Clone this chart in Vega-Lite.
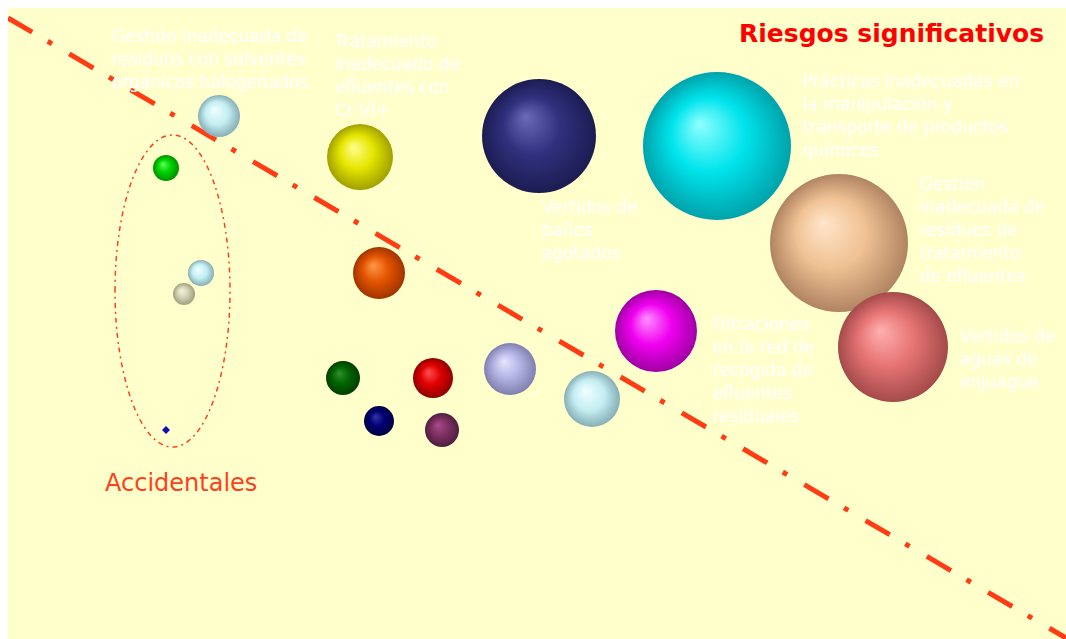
{
  "$schema": "https://vega.github.io/schema/vega-lite/v6.json",
  "autosize": {"type": "none"},
  "width": 1058,
  "height": 631,
  "padding": {"left": 8, "top": 8, "right": 0, "bottom": 0},
  "background": "white",
  "config": {"view": {"fill": "#FFFFCC", "stroke": null}},
  "datasets": {
    "riesgos": [
      {"id": "r1", "x": 219, "y": 116, "r": 21},
      {"id": "r2", "x": 360, "y": 157, "r": 33},
      {"id": "r3", "x": 539, "y": 136, "r": 57},
      {"id": "r4", "x": 717, "y": 146, "r": 74},
      {"id": "r5", "x": 839, "y": 243, "r": 69},
      {"id": "r6", "x": 656, "y": 331, "r": 41},
      {"id": "r7", "x": 893, "y": 347, "r": 55},
      {"id": "r8", "x": 379, "y": 273, "r": 26},
      {"id": "r9", "x": 343, "y": 378, "r": 17},
      {"id": "r10", "x": 433, "y": 378, "r": 20},
      {"id": "r11", "x": 510, "y": 369, "r": 26},
      {"id": "r12", "x": 592, "y": 399, "r": 28},
      {"id": "r13", "x": 379, "y": 421, "r": 15},
      {"id": "r14", "x": 442, "y": 430, "r": 17},
      {"id": "r15", "x": 166, "y": 168, "r": 13},
      {"id": "r16", "x": 201, "y": 273, "r": 13},
      {"id": "r17", "x": 184, "y": 294, "r": 11},
      {"id": "r18", "x": 166, "y": 430, "r": 4}
    ],
    "diagonal": [
      {"x": 8, "y": 18},
      {"x": 1066, "y": 638}
    ],
    "grupo": [
      {"x": 172.5, "y": 291, "r": 156}
    ],
    "etiquetas": [
      {"x": 112, "y": 42, "texto": "Gestión inadecuada de\nresiduos con solventes\norgánicos halogenados"},
      {"x": 335, "y": 47, "texto": "Tratamiento\ninadecuado de\nefluentes con\nCr VI+"},
      {"x": 803, "y": 87, "texto": "Prácticas inadecuadas en\nla manipulación y\ntransporte de productos\nquímicos"},
      {"x": 920, "y": 190, "texto": "Gestión\ninadecuada de\nresiduos de\ntratamiento\nde efluentes"},
      {"x": 542, "y": 213, "texto": "Vertidos de\nbaños\nagotados"},
      {"x": 713, "y": 330, "texto": "Filtraciones\nen la red de\nrecogida de\nefluentes\nresiduales"},
      {"x": 960, "y": 342, "texto": "Vertidos de\naguas de\nenjuague"}
    ],
    "titulos": [
      {"x": 739, "y": 42, "texto": "Riesgos significativos", "tipo": "sig"},
      {"x": 105, "y": 491, "texto": "Accidentales", "tipo": "acc"}
    ]
  },
  "encoding": {
    "x": {"field": "x", "type": "quantitative", "scale": {"domain": [8, 1066], "nice": false, "zero": false}, "axis": null},
    "y": {"field": "y", "type": "quantitative", "scale": {"domain": [8, 639], "reverse": true, "nice": false, "zero": false}, "axis": null}
  },
  "layer": [
    {
      "data": {"name": "diagonal"},
      "mark": {"type": "line", "color": "#FF3C14", "strokeWidth": 5, "strokeDash": [28, 18, 5, 20], "strokeCap": "butt", "clip": true},
      "encoding": {}
    },
    {
      "data": {"name": "grupo"},
      "mark": {"type": "point", "shape": "M -0.3686 0 A 0.3686 1 0 1 1 0.3686 0 A 0.3686 1 0 1 1 -0.3686 0 Z", "filled": false, "color": "#FF4020", "stroke": "#FF4020", "strokeWidth": 1.5, "strokeDash": [5, 4, 2, 4], "opacity": 1},
      "encoding": {
        "size": {"field": "r", "type": "quantitative", "scale": {"type": "pow", "exponent": 2, "domain": [0, 100], "range": [0, 40000]}, "legend": null}
      }
    },
    {
      "data": {"name": "riesgos"},
      "encoding": {
        "size": {"field": "r", "type": "quantitative", "scale": {"type": "pow", "exponent": 2, "domain": [0, 100], "range": [0, 40000]}, "legend": null}
      },
      "layer": [
        {"transform": [{"filter": {"field": "id", "oneOf": ["r1", "r12", "r16"]}}],
         "mark": {"type": "point", "filled": true, "opacity": 1, "shape": "circle", "fill": {"gradient": "radial", "x1": 0.38, "y1": 0.35, "r1": 0, "x2": 0.5, "y2": 0.5, "r2": 0.5, "stops": [{"offset": 0, "color": "#F0FFFF"}, {"offset": 0.55, "color": "#C4EEF2"}, {"offset": 1, "color": "#86AEB6"}]}}},
        {"transform": [{"filter": "datum.id === 'r2'"}],
         "mark": {"type": "point", "filled": true, "opacity": 1, "shape": "circle", "fill": {"gradient": "radial", "x1": 0.4, "y1": 0.35, "r1": 0, "x2": 0.5, "y2": 0.5, "r2": 0.5, "stops": [{"offset": 0, "color": "#FFFF90"}, {"offset": 0.5, "color": "#E6E600"}, {"offset": 1, "color": "#A0A000"}]}}},
        {"transform": [{"filter": "datum.id === 'r3'"}],
         "mark": {"type": "point", "filled": true, "opacity": 1, "shape": "circle", "fill": {"gradient": "radial", "x1": 0.38, "y1": 0.33, "r1": 0, "x2": 0.5, "y2": 0.5, "r2": 0.5, "stops": [{"offset": 0, "color": "#6A6AB8"}, {"offset": 0.5, "color": "#30307E"}, {"offset": 1, "color": "#1C1C52"}]}}},
        {"transform": [{"filter": "datum.id === 'r4'"}],
         "mark": {"type": "point", "filled": true, "opacity": 1, "shape": "circle", "fill": {"gradient": "radial", "x1": 0.38, "y1": 0.35, "r1": 0, "x2": 0.5, "y2": 0.5, "r2": 0.5, "stops": [{"offset": 0, "color": "#90FFFF"}, {"offset": 0.5, "color": "#00E4EC"}, {"offset": 1, "color": "#00A2AA"}]}}},
        {"transform": [{"filter": "datum.id === 'r5'"}],
         "mark": {"type": "point", "filled": true, "opacity": 1, "shape": "circle", "fill": {"gradient": "radial", "x1": 0.38, "y1": 0.35, "r1": 0, "x2": 0.5, "y2": 0.5, "r2": 0.5, "stops": [{"offset": 0, "color": "#FFE6CA"}, {"offset": 0.5, "color": "#F0C294"}, {"offset": 1, "color": "#B08462"}]}}},
        {"transform": [{"filter": "datum.id === 'r6'"}],
         "mark": {"type": "point", "filled": true, "opacity": 1, "shape": "circle", "fill": {"gradient": "radial", "x1": 0.38, "y1": 0.35, "r1": 0, "x2": 0.5, "y2": 0.5, "r2": 0.5, "stops": [{"offset": 0, "color": "#FF90FF"}, {"offset": 0.5, "color": "#F000F0"}, {"offset": 1, "color": "#A000A4"}]}}},
        {"transform": [{"filter": "datum.id === 'r7'"}],
         "mark": {"type": "point", "filled": true, "opacity": 1, "shape": "circle", "fill": {"gradient": "radial", "x1": 0.38, "y1": 0.35, "r1": 0, "x2": 0.5, "y2": 0.5, "r2": 0.5, "stops": [{"offset": 0, "color": "#FFB0B0"}, {"offset": 0.5, "color": "#E67474"}, {"offset": 1, "color": "#A44A4A"}]}}},
        {"transform": [{"filter": "datum.id === 'r8'"}],
         "mark": {"type": "point", "filled": true, "opacity": 1, "shape": "circle", "fill": {"gradient": "radial", "x1": 0.38, "y1": 0.35, "r1": 0, "x2": 0.5, "y2": 0.5, "r2": 0.5, "stops": [{"offset": 0, "color": "#FF9848"}, {"offset": 0.5, "color": "#E45400"}, {"offset": 1, "color": "#A03400"}]}}},
        {"transform": [{"filter": "datum.id === 'r9'"}],
         "mark": {"type": "point", "filled": true, "opacity": 1, "shape": "circle", "fill": {"gradient": "radial", "x1": 0.38, "y1": 0.35, "r1": 0, "x2": 0.5, "y2": 0.5, "r2": 0.5, "stops": [{"offset": 0, "color": "#2E902E"}, {"offset": 0.5, "color": "#006400"}, {"offset": 1, "color": "#003E00"}]}}},
        {"transform": [{"filter": "datum.id === 'r10'"}],
         "mark": {"type": "point", "filled": true, "opacity": 1, "shape": "circle", "fill": {"gradient": "radial", "x1": 0.38, "y1": 0.35, "r1": 0, "x2": 0.5, "y2": 0.5, "r2": 0.5, "stops": [{"offset": 0, "color": "#FF5050"}, {"offset": 0.5, "color": "#E00000"}, {"offset": 1, "color": "#900000"}]}}},
        {"transform": [{"filter": "datum.id === 'r11'"}],
         "mark": {"type": "point", "filled": true, "opacity": 1, "shape": "circle", "fill": {"gradient": "radial", "x1": 0.38, "y1": 0.35, "r1": 0, "x2": 0.5, "y2": 0.5, "r2": 0.5, "stops": [{"offset": 0, "color": "#E6E6FF"}, {"offset": 0.5, "color": "#B4B4E4"}, {"offset": 1, "color": "#8080B0"}]}}},
        {"transform": [{"filter": "datum.id === 'r13'"}],
         "mark": {"type": "point", "filled": true, "opacity": 1, "shape": "circle", "fill": {"gradient": "radial", "x1": 0.38, "y1": 0.35, "r1": 0, "x2": 0.5, "y2": 0.5, "r2": 0.5, "stops": [{"offset": 0, "color": "#3434A4"}, {"offset": 0.5, "color": "#000074"}, {"offset": 1, "color": "#000040"}]}}},
        {"transform": [{"filter": "datum.id === 'r14'"}],
         "mark": {"type": "point", "filled": true, "opacity": 1, "shape": "circle", "fill": {"gradient": "radial", "x1": 0.38, "y1": 0.35, "r1": 0, "x2": 0.5, "y2": 0.5, "r2": 0.5, "stops": [{"offset": 0, "color": "#A84C88"}, {"offset": 0.5, "color": "#7E3062"}, {"offset": 1, "color": "#4E1E3E"}]}}},
        {"transform": [{"filter": "datum.id === 'r15'"}],
         "mark": {"type": "point", "filled": true, "opacity": 1, "shape": "circle", "fill": {"gradient": "radial", "x1": 0.38, "y1": 0.35, "r1": 0, "x2": 0.5, "y2": 0.5, "r2": 0.5, "stops": [{"offset": 0, "color": "#60FF60"}, {"offset": 0.5, "color": "#00D400"}, {"offset": 1, "color": "#009000"}]}}},
        {"transform": [{"filter": "datum.id === 'r17'"}],
         "mark": {"type": "point", "filled": true, "opacity": 1, "shape": "circle", "fill": {"gradient": "radial", "x1": 0.38, "y1": 0.35, "r1": 0, "x2": 0.5, "y2": 0.5, "r2": 0.5, "stops": [{"offset": 0, "color": "#F4F4DC"}, {"offset": 0.5, "color": "#D2D2B2"}, {"offset": 1, "color": "#A0A080"}]}}},
        {"transform": [{"filter": "datum.id === 'r18'"}],
         "mark": {"type": "point", "filled": true, "opacity": 1, "shape": "diamond", "fill": "#1010B0"}}
      ]
    },
    {
      "data": {"name": "etiquetas"},
      "mark": {"type": "text", "align": "left", "baseline": "alphabetic", "lineBreak": "\n", "lineHeight": 23, "font": "DejaVu Sans", "fontSize": 17, "color": "white"},
      "encoding": {"text": {"field": "texto", "type": "nominal"}}
    },
    {
      "data": {"name": "titulos"},
      "transform": [{"filter": "datum.tipo === 'sig'"}],
      "mark": {"type": "text", "align": "left", "baseline": "alphabetic", "font": "DejaVu Sans", "fontSize": 25, "fontWeight": "bold", "color": "#FF0000"},
      "encoding": {"text": {"field": "texto", "type": "nominal"}}
    },
    {
      "data": {"name": "titulos"},
      "transform": [{"filter": "datum.tipo === 'acc'"}],
      "mark": {"type": "text", "align": "left", "baseline": "alphabetic", "font": "DejaVu Sans", "fontSize": 24, "color": "#FF4020"},
      "encoding": {"text": {"field": "texto", "type": "nominal"}}
    }
  ]
}
